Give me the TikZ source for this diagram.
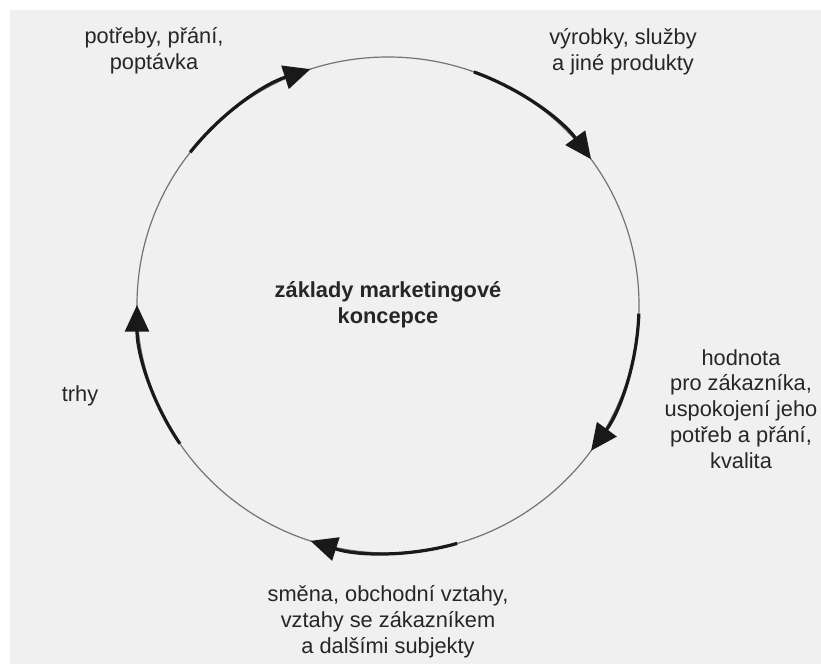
\documentclass[tikz,border=0pt]{standalone}
\usepackage{fontspec}
\setmainfont{Liberation Sans}
\usetikzlibrary{arrows.meta,calc}

\begin{document}
\begin{tikzpicture}[
    x=0.025cm, y=0.025cm,
    page/.style={fill=black!6, draw=none},
    ring/.style={draw=black!55, line width=0.85pt},
    flow/.style={draw=black!90, line width=2.3pt, -{Triangle[length=19pt, width=17pt]}},
    label/.style={align=center, text=black!85, font=\fontsize{15.5}{18.4}\selectfont},
    core/.style={label, font=\fontsize{15.5}{18.4}\selectfont\bfseries}
]

\useasboundingbox (0,0) rectangle (821,664);

% Page
\fill[page] (10,0) rectangle (821,654);

% Ring
\coordinate (ctr) at (388,359);
\draw[ring] (ctr) ellipse [x radius=251, y radius=248];

% Thick arrows on the ring
\foreach \k in {0,...,4}
    \draw[flow] ($(ctr)+({142-72*\k}:251 and 248)$)
        arc[start angle={142-72*\k}, end angle={108-72*\k}, x radius=251, y radius=248];

% Labels
\node[core] (concept) at (ctr) {základy marketingové\\koncepce};
\node[label] (needs) at (154,613) {potřeby, přání,\\poptávka};
\node[label] (products) at (623,612) {výrobky, služby\\a jiné produkty};
\node[label] (value) at (741,255) {hodnota\\pro zákazníka,\\uspokojení jeho\\potřeb a přání,\\kvalita};
\node[label] (exchange) at (388,42) {směna, obchodní vztahy,\\vztahy se zákazníkem\\a dalšími subjekty};
\node[label] (markets) at (80,268) {trhy};

\end{tikzpicture}
\end{document}
